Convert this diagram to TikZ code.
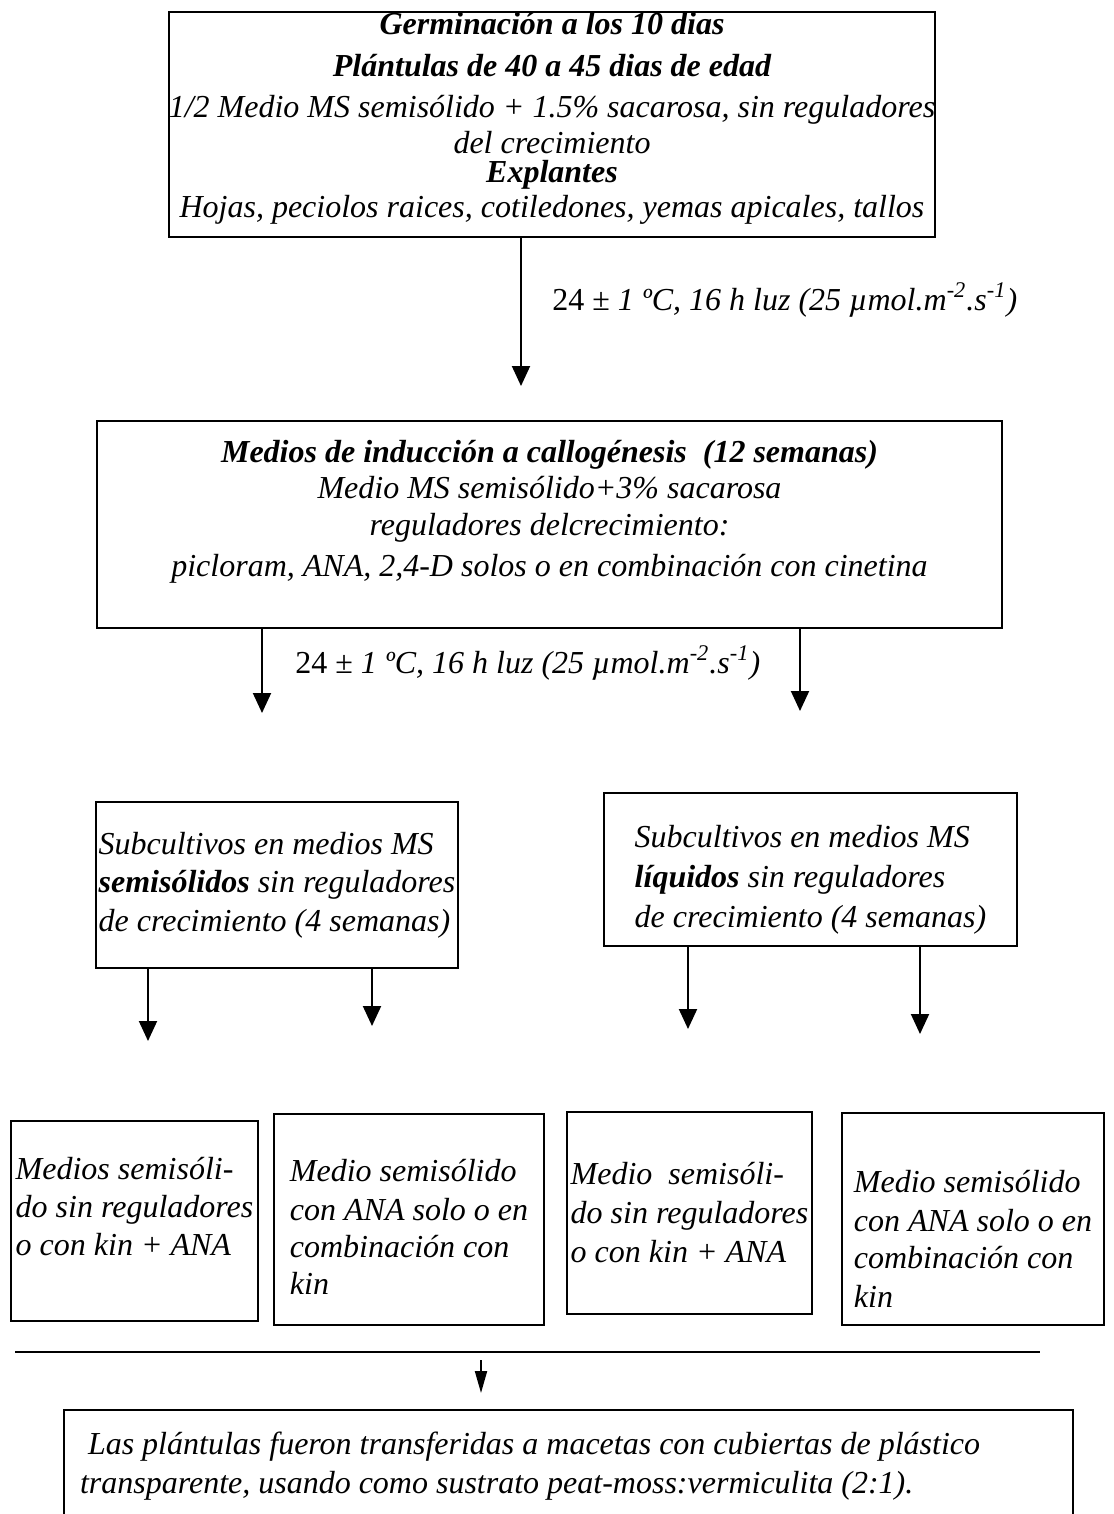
\documentclass[tikz,border=0pt]{standalone}
\usepackage{fontspec}
\setmainfont{Liberation Serif}
\usetikzlibrary{shapes,arrows.meta}

\begin{document}
\begin{tikzpicture}[x=0.5pt,y=-0.5pt,
    box/.style={draw, rectangle, line width=1pt, inner sep=0pt,
      font=\fontsize{16}{19}\selectfont\itshape},
    flow/.style={-{Triangle[width=9pt,length=10pt]}, line width=1pt},
    cond/.style={anchor=west, inner sep=0pt, font=\fontsize{16}{19}\selectfont}]
  \useasboundingbox (0,0) rectangle (1113,1514);

  % main steps
  \node[box, align=center, minimum width=380pt, minimum height=112.5pt] (germ) at (552,124.5)
    {\textbf{Germinación a los 10 dias}\\[2pt]
     \textbf{Plántulas de 40 a 45 dias de edad}\\[1.5pt]
     1/2 Medio MS semisólido + 1.5\% sacarosa, sin reguladores\\[-1pt]
     del crecimiento\\[-4.5pt]
     \textbf{Explantes}\\[-1.5pt]
     Hojas, peciolos raices, cotiledones, yemas apicales, tallos\\[-9pt]\mbox{}};
  \node[box, align=center, minimum width=452.5pt, minimum height=103.5pt] (induc) at (549.5,524.5)
    {\textbf{Medios de inducción a callogénesis\ \ (12 semanas)}\\[-1pt]
     Medio MS semisólido+3\% sacarosa\\[-0.5pt]
     reguladores delcrecimiento:\\[1.5pt]
     picloram, ANA, 2,4-D solos o en combinación con cinetina\\[-3pt]\mbox{}};

  % subcultivos
  \node[box, align=left, minimum width=181pt, minimum height=83pt] (semi) at (277,885)
    {Subcultivos en medios MS\\
     \textbf{semisólidos} sin reguladores\\[0.5pt]
     de crecimiento (4 semanas)};
  \node[box, align=left, minimum width=206.5pt, minimum height=76.5pt] (liq) at (810.5,869.5)
    {\mbox{}\\[2.5pt]
     Subcultivos en medios MS\\[1pt]
     \textbf{líquidos} sin reguladores\\[1pt]
     de crecimiento (4 semanas)};

  % medios de regeneracion
  \node[box, align=left, minimum width=123.5pt, minimum height=100pt] (reg1) at (134.5,1221)
    {Medios semisóli-\\
     do sin reguladores\\
     o con kin + ANA\\[-4pt]\mbox{}};
  \node[box, align=left, minimum width=135pt, minimum height=105.5pt] (reg2) at (409,1219.5)
    {\mbox{}\\[-0.5pt]
     Medio semisólido\\[0.5pt]
     con ANA solo o en\\[-0.5pt]
     combinación con\\[-0.5pt]
     kin};
  \node[box, align=left, minimum width=122.5pt, minimum height=101pt] (reg3) at (689.5,1213)
    {Medio\ \ semisóli-\\[0.5pt]
     do sin reguladores\\[0.5pt]
     o con kin + ANA};
  \node[box, align=left, minimum width=131pt, minimum height=106pt] (reg4) at (973,1219)
    {\mbox{}\\[12pt]
     Medio semisólido\\[0.5pt]
     con ANA solo o en\\[-0.5pt]
     combinación con\\[0.5pt]
     kin};

  \node[box, align=flush left, text width=488.5pt, inner xsep=8pt, minimum height=56pt] (maceta) at (568.5,1466)
    {\ Las plántulas fueron transferidas a macetas con cubiertas de plástico\\[0.5pt]
     transparente, usando como sustrato peat-moss:vermiculita (2:1).};

  % condiciones
  \coordinate (a1) at (521,386);
  \draw[flow] (germ.south -| a1) -- (a1);
  \node[cond] (cond1) at (552,300)
    {24 ± \textit{1 ºC, 16 h luz (25 µmol.m\textsuperscript{-2}.s\textsuperscript{-1})}};

  \coordinate (a2) at (262,713);
  \coordinate (a3) at (800,711);
  \draw[flow] (induc.south -| a2) -- (a2);
  \draw[flow] (induc.south -| a3) -- (a3);
  \node[cond] (cond2) at (295,663)
    {24 ± \textit{1 ºC, 16 h luz (25 µmol.m\textsuperscript{-2}.s\textsuperscript{-1})}};

  \coordinate (s1) at (148,1041);
  \coordinate (s2) at (372,1026);
  \coordinate (l1) at (688,1029);
  \coordinate (l2) at (920,1034);
  \draw[flow] (semi.south -| s1) -- (s1);
  \draw[flow] (semi.south -| s2) -- (s2);
  \draw[flow] (liq.south -| l1) -- (l1);
  \draw[flow] (liq.south -| l2) -- (l2);

  % linea y ultima flecha
  \coordinate (hl) at (15,1352);
  \coordinate (hr) at (1040,1352);
  \draw[line width=1pt] (hl) -- (hr);
  \coordinate (f1) at (481,1360);
  \coordinate (f2) at (481,1393);
  \draw[-{Triangle[width=6pt,length=11pt]}, line width=1pt] (f1) -- (f2);
\end{tikzpicture}
\end{document}
